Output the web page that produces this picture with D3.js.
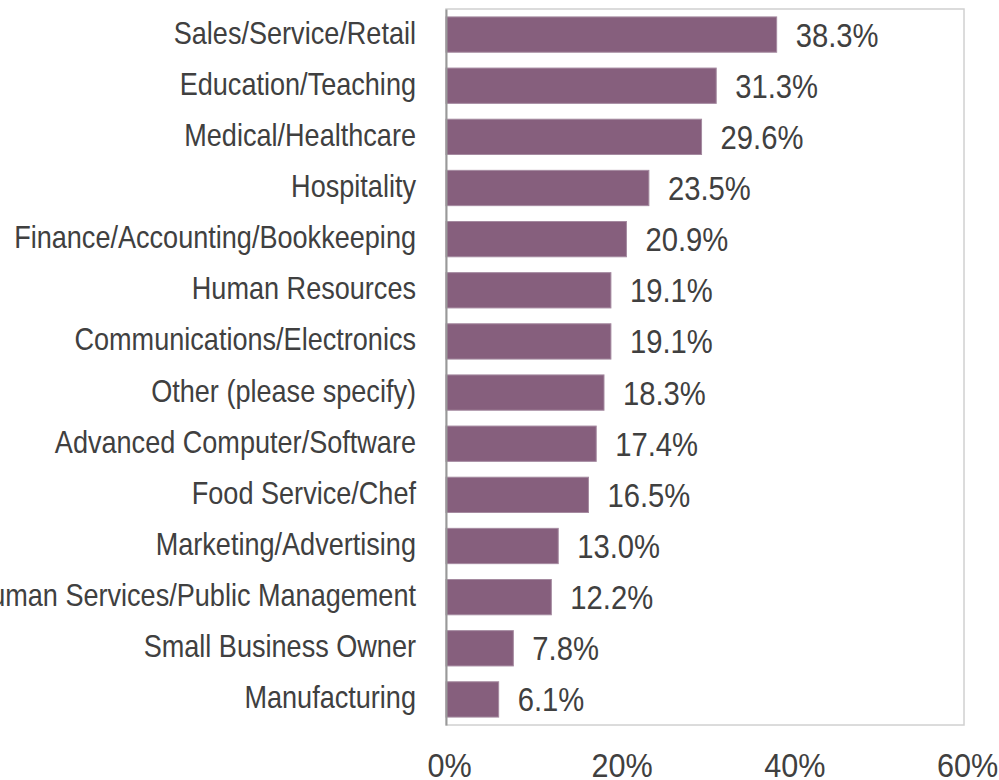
<!DOCTYPE html>
<html>
<head>
<meta charset="utf-8">
<script src="https://cdn.jsdelivr.net/npm/d3@7"></script>
<style>
  html, body { margin: 0; padding: 0; background: #fff; }
  svg text { font-family: "Liberation Sans", Arial, sans-serif; fill: #404040; }
</style>
</head>
<body>
<svg id="chart" width="999" height="780"></svg>
<script>
// Occupational fields, share of respondents (%)
const categories = [
  "Sales/Service/Retail",
  "Education/Teaching",
  "Medical/Healthcare",
  "Hospitality",
  "Finance/Accounting/Bookkeeping",
  "Human Resources",
  "Communications/Electronics",
  "Other (please specify)",
  "Advanced Computer/Software",
  "Food Service/Chef",
  "Marketing/Advertising",
  "Human Services/Public Management",
  "Small Business Owner",
  "Manufacturing"
];
const values = [38.3, 31.3, 29.6, 23.5, 20.9, 19.1, 19.1, 18.3, 17.4, 16.5, 13.0, 12.2, 7.8, 6.1];
const xTicks = [0, 20, 40, 60];

const svg = d3.select("#chart");
const plot = { left: 446, right: 964, top: 9, bottom: 725 };
const narrow = 0.86; // horizontal squeeze applied to all labels

const x = d3.scaleLinear().domain([0, 60]).range([plot.left, plot.right]);
const y = d3.scaleBand().domain(categories).range([plot.top, plot.bottom]).paddingInner(0.31).paddingOuter(0.155);

// plot frame
svg.append("rect")
  .attr("x", plot.left).attr("y", plot.top)
  .attr("width", plot.right - plot.left).attr("height", plot.bottom - plot.top)
  .attr("fill", "none").attr("stroke", "#d0d0d0").attr("stroke-width", 1.5);

// bars
svg.append("g").selectAll("rect")
  .data(values)
  .join("rect")
  .attr("x", x(0))
  .attr("y", (d, i) => y(categories[i]))
  .attr("width", d => x(d) - x(0))
  .attr("height", y.bandwidth())
  .attr("fill", "#865f7d")
  .attr("stroke", "#a58aa0")
  .attr("stroke-width", 1);

// value labels
svg.append("g").selectAll("text")
  .data(values)
  .join("text")
  .attr("transform", (d, i) =>
    `translate(${x(d) + 19},${y(categories[i]) + y.bandwidth() / 2 + 12}) scale(${narrow},1)`)
  .attr("font-size", 34)
  .text(d => d.toFixed(1) + "%");

// category axis
const yAxis = svg.append("g")
  .attr("transform", `translate(${plot.left},0)`)
  .call(d3.axisLeft(y).tickSize(0));
yAxis.select(".domain").attr("stroke", "#999").attr("stroke-width", 2);
yAxis.selectAll("text")
  .attr("x", 0).attr("dy", null)
  .attr("transform", `translate(-30,9) scale(${narrow},1)`)
  .attr("font-size", 31.5)
  .attr("fill", "#404040")
  .attr("font-family", "'Liberation Sans', Arial, sans-serif");

// value axis
const xAxis = svg.append("g")
  .attr("transform", `translate(0,${plot.bottom})`)
  .call(d3.axisBottom(x).tickValues(xTicks).tickSize(0).tickFormat(d => d + "%"));
xAxis.select(".domain").remove();
xAxis.selectAll("text")
  .attr("y", 0).attr("dy", null)
  .attr("transform", `translate(3,52) scale(0.9,1)`)
  .attr("font-size", 34)
  .attr("fill", "#404040")
  .attr("font-family", "'Liberation Sans', Arial, sans-serif");
</script>
</body>
</html>
